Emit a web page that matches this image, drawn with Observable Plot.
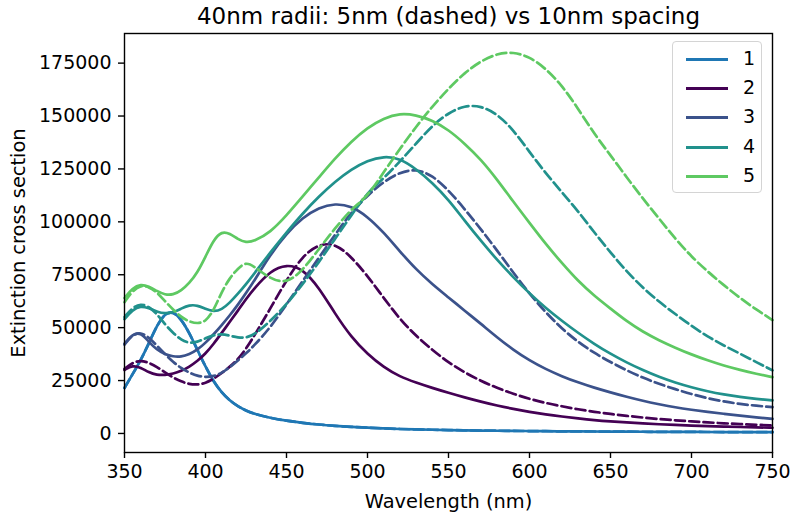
<!DOCTYPE html>
<html><head><meta charset="utf-8">
<script src="https://cdn.jsdelivr.net/npm/d3@7"></script>
<script src="https://cdn.jsdelivr.net/npm/@observablehq/plot@0.6"></script>
<style>
body{margin:0;background:#fff;font-family:"DejaVu Sans",sans-serif;}
#wrap{position:relative;width:791px;height:518px;overflow:hidden;}
#legend{position:absolute;left:672px;top:41px;width:90px;height:152px;border:1px solid #d4d4d4;border-radius:4px;background:rgba(255,255,255,0.8);box-sizing:border-box;}
.row{position:absolute;left:0;height:20px;width:90px;}
.sw{position:absolute;left:13px;top:9px;width:42px;height:3px;}
.lab{position:absolute;left:70px;top:-2px;font-size:19px;line-height:23px;color:#000;}
</style></head><body><div id="wrap"></div>
<script>
const title = "40nm radii: 5nm (dashed) vs 10nm spacing";
const xLabel = "Wavelength (nm)";
const yLabel = "Extinction cross section";
const seriesNames = ["1","2","3","4","5"];
const colors = ["#1f77b4","#440154","#3b528b","#21918c","#5ec962"];
const xTicks = [350,400,450,500,550,600,650,700,750];
const yTicks = [0,25000,50000,75000,100000,125000,150000,175000];

const wavelengths = [350,355,360,365,370,375,380,385,390,395,400,405,410,415,420,425,430,
  440,450,460,470,480,490,500,510,520,530,
  540,550,560,570,580,590,600,610,620,630,640,650,660,670,680,690,700,710,720,730,740,750];

// 10nm spacing (solid)
const solid1 = [21500,28000,34600,42500,51000,56800,57700,54000,47500,39500,31500,24500,19300,15500,12800,10800,9300,
  7300,6000,5000,4200,3600,3100,2700,2400,2100,1900,
  1750,1600,1480,1370,1280,1200,1130,1070,1010,960,910,870,830,800,770,740,710,690,670,650,630,610];
const solid2 = [30000,32200,31200,28800,27600,27600,28200,29500,31500,34200,37700,42300,47500,52800,58000,63500,68500,
  76800,80000,77800,69000,56500,45500,37500,31300,26800,24000,
  21500,19200,17000,15000,13200,11600,10200,9000,8000,7100,6300,5700,5200,4750,4350,4000,3700,3450,3250,3050,2870,2700];
const solid3 = [42400,47000,47700,43300,39500,37400,36300,36200,37400,39500,42800,46800,51200,55800,60800,66300,72000,
  84500,94500,102000,106800,108700,107500,102500,95000,86000,77500,
  70500,64300,58000,51800,45400,39500,34500,30400,27000,24100,21600,19400,17300,15400,13800,12300,11200,10200,9300,8400,7600,6900];
const solid4 = [54000,58500,60300,59300,57500,56600,57200,59000,60700,60600,58800,57500,58500,61800,66000,70500,75500,
  85500,95000,104000,112000,119000,124800,129000,131000,130000,125000,
  118500,110500,100500,91000,82000,73800,66200,59300,53200,47500,42300,37600,33500,29900,26700,24000,21800,19900,18400,17200,16300,15600];
const solid5 = [64000,68800,70500,69500,67300,65500,65500,67500,71000,76000,83500,91500,95500,94500,91800,90200,90800,
  95000,103000,112000,121000,130000,138000,144500,149000,151300,150500,
  148000,143500,137000,129500,120000,109500,99500,89500,80500,72000,65000,59000,53000,48000,44000,40500,37300,34500,32000,30000,28200,26600];

// 5nm spacing (dashed)
const dashed1 = solid1;
const dashed2 = [30500,33500,34500,33500,31500,28800,26400,24500,23300,23000,23800,25800,28500,31500,35000,40000,46000,
  59000,72500,84000,89500,89800,83500,74500,64000,54000,46000,
  39500,33500,28800,24800,21500,18700,16300,14400,12800,11400,10200,9200,8300,7500,6800,6200,5700,5200,4800,4400,4100,3800];
const dashed3 = [42000,46800,47800,45500,41500,37500,33800,30800,28700,27200,26600,27000,28500,31300,34500,37800,41500,
  50000,61000,72000,83000,94000,104500,112500,119000,123500,125000,
  122000,115000,106000,96500,86500,76000,66000,57200,49500,43200,38000,33700,29800,26300,23400,20900,18600,16600,15100,13900,13100,12400];
const dashed4 = [55000,59500,61300,60000,56500,51500,47500,44200,42600,43200,45000,46500,47000,46200,45300,45200,46500,
  53000,61000,70500,81000,92000,103000,114000,120500,128500,137000,
  145500,151500,155000,154800,151000,143500,133000,123000,114000,105000,95000,85500,76500,68800,62200,56400,50800,45800,41500,37700,33700,29800];
const dashed5 = [62000,67500,70000,69300,66800,62500,58500,55000,52800,51900,52800,58000,67000,73500,78000,81000,79000,
  73000,70800,77000,87200,97000,106000,112000,123500,134500,145000,
  154500,163000,170500,176000,179500,180300,178000,172500,164500,153500,141500,131500,121000,111000,101500,92000,83500,76500,70000,64000,58500,53600];

const solids = [solid1, solid2, solid3, solid4, solid5];
const dasheds = [dashed1, dashed2, dashed3, dashed4, dashed5];
const toRows = (vals, name) => vals.map((v, j) => ({wl: wavelengths[j], v, series: name}));

const lineMarks = [];
seriesNames.forEach((name, i) => {
  lineMarks.push(Plot.line(toRows(solids[i], name), {x: "wl", y: "v", stroke: colors[i], strokeWidth: 2.7, curve: "basis"}));
  lineMarks.push(Plot.line(toRows(dasheds[i], name), {x: "wl", y: "v", stroke: colors[i], strokeWidth: 2.7, strokeDasharray: "10,4.3", curve: "basis"}));
});

const chart = Plot.plot({
  width: 791, height: 518,
  marginLeft: 124, marginRight: 19, marginTop: 33, marginBottom: 66,
  style: {fontFamily: "DejaVu Sans, sans-serif", fontSize: "19px", background: "white", color: "black"},
  x: {domain: [350, 750]},
  y: {domain: [-9000, 189000]},
  marks: [
    ...lineMarks,
    Plot.frame({stroke: "black", strokeWidth: 1.4}),
    Plot.axisX({ticks: xTicks, tickSize: 6, tickPadding: 6, strokeWidth: 1.4, label: null, fontSize: 19}),
    Plot.axisY({ticks: yTicks, tickSize: 6, tickPadding: 7, strokeWidth: 1.4, label: null, tickFormat: d3.format("d"), fontSize: 19}),
    Plot.text([title], {frameAnchor: "top", dy: -17, lineAnchor: "middle", textAnchor: "middle", fontSize: 23, fill: "black"}),
    Plot.text([xLabel], {frameAnchor: "bottom", dy: 49, lineAnchor: "middle", textAnchor: "middle", fontSize: 19.4, fill: "black"}),
    Plot.text([yLabel], {frameAnchor: "left", dx: -106, rotate: -90, lineAnchor: "middle", textAnchor: "middle", fontSize: 19.4, fill: "black"})
  ]
});
const wrap = document.getElementById("wrap");
wrap.appendChild(chart);

const legend = document.createElement("div");
legend.id = "legend";
seriesNames.forEach((name, i) => {
  const row = document.createElement("div");
  row.className = "row";
  row.style.top = (7 + i * 29.2) + "px";
  const sw = document.createElement("div");
  sw.className = "sw";
  sw.style.background = colors[i];
  const lab = document.createElement("div");
  lab.className = "lab";
  lab.textContent = name;
  row.appendChild(sw); row.appendChild(lab);
  legend.appendChild(row);
});
wrap.appendChild(legend);
</script>
</body></html>
